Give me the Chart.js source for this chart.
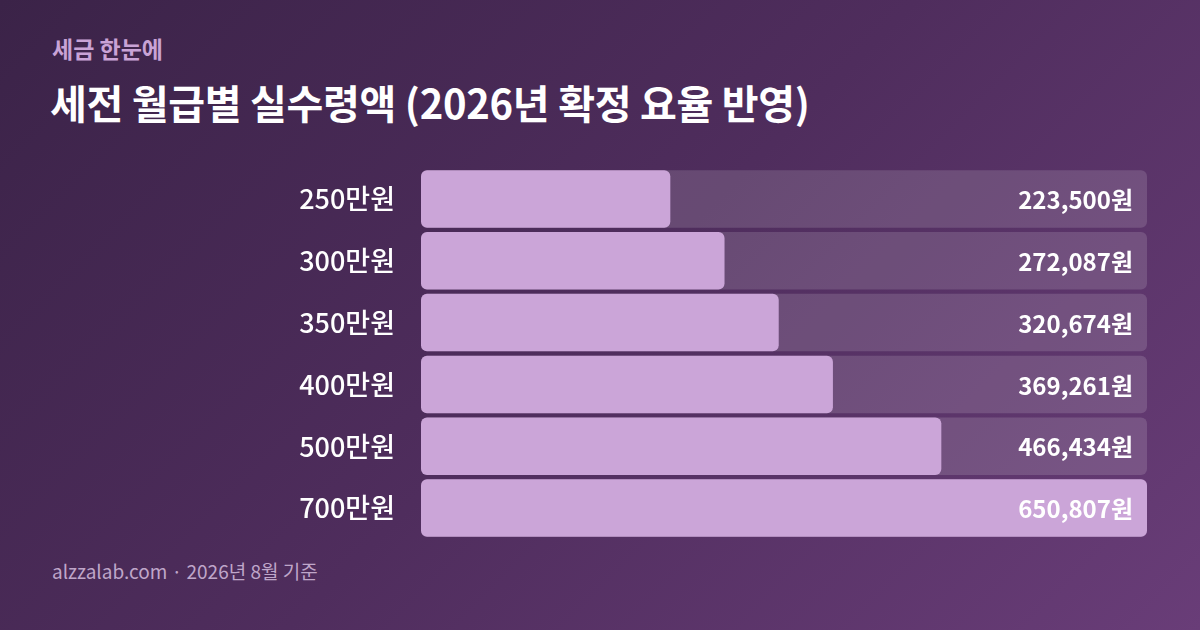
<!DOCTYPE html>
<html>
<head>
<meta charset="utf-8">
<script src="https://cdn.jsdelivr.net/npm/chart.js@4"></script>
<style>
  html, body { margin: 0; padding: 0; }
  body {
    width: 1200px; height: 630px; overflow: hidden; position: relative;
    background: linear-gradient(135deg, #3b2348 0%, #4f2d5d 50%, #693d78 100%);
    font-family: "Noto Sans CJK KR", "Noto Sans", sans-serif;
  }
  #kicker { position: absolute; left: 52px; top: 31px; color: #c9a3d6; font-size: 23px; font-weight: 700; }
  #title { position: absolute; left: 50px; top: 73px; color: #ffffff; font-size: 40px; font-weight: 700; letter-spacing: -0.3px; }
  #foot { position: absolute; left: 52px; top: 557px; color: #bfa6c9; font-size: 19px; }
  #wrap { position: absolute; left: 0; top: 0; width: 1200px; height: 630px; }
</style>
</head>
<body>
<div id="kicker">세금 한눈에</div>
<div id="title">세전 월급별 실수령액 (2026년 확정 요율 반영)</div>
<div id="foot">alzzalab.com · 2026년 8월 기준</div>
<div id="wrap"><canvas id="chart"></canvas></div>
<script>
const categories = ['250만원', '300만원', '350만원', '400만원', '500만원', '700만원']
const netPay = [223500, 272087, 320674, 369261, 466434, 650807]
const axisMax = 650807
const track = categories.map(() => axisMax)

const valueLabels = {
    id: 'valueLabels',
    afterDatasetsDraw(chart) {
        const c = chart.ctx
        const meta = chart.getDatasetMeta(0)
        c.save()
        c.fillStyle = '#ffffff'
        c.font = '700 24px "Noto Sans CJK KR"'
        c.textAlign = 'right'
        c.textBaseline = 'middle'
        meta.data.forEach((bar, i) => {
            c.fillText(netPay[i].toLocaleString('en-US') + '원', chart.chartArea.right - 14, bar.y + 1)
        })
        c.restore()
    }
}

new Chart(document.getElementById('chart'), {
    type: 'bar',
    data: {
        labels: categories,
        datasets: [{
            data: netPay,
            backgroundColor: '#cba5d8',
            borderRadius: 6,
            borderSkipped: false,
            order: 1,
            grouped: false,
            barPercentage: 0.93,
            categoryPercentage: 1
        },
        {
            data: track,
            backgroundColor: 'rgba(255,255,255,0.14)',
            borderRadius: 6,
            borderSkipped: false,
            order: 2,
            grouped: false,
            barPercentage: 0.93,
            categoryPercentage: 1
        }]
    },
    options: {
        indexAxis: 'y',
        responsive: true,
        maintainAspectRatio: false,
        animation: false,
        layout: { padding: { top: 168, bottom: 91, right: 53, left: 0 } },
        plugins: { legend: { display: false }, tooltip: { enabled: false } },
        scales: {
            x: { display: false, min: 0, max: axisMax },
            y: {
                grid: { display: false },
                border: { display: false },
                afterFit(scale) { scale.width = 421 },
                ticks: {
                    color: '#ffffff',
                    padding: 18,
                    font: { family: '"Noto Sans CJK KR"', size: 27, weight: '500' }
                }
            }
        }
    },
    plugins: [valueLabels]
})
</script>
</body>
</html>
